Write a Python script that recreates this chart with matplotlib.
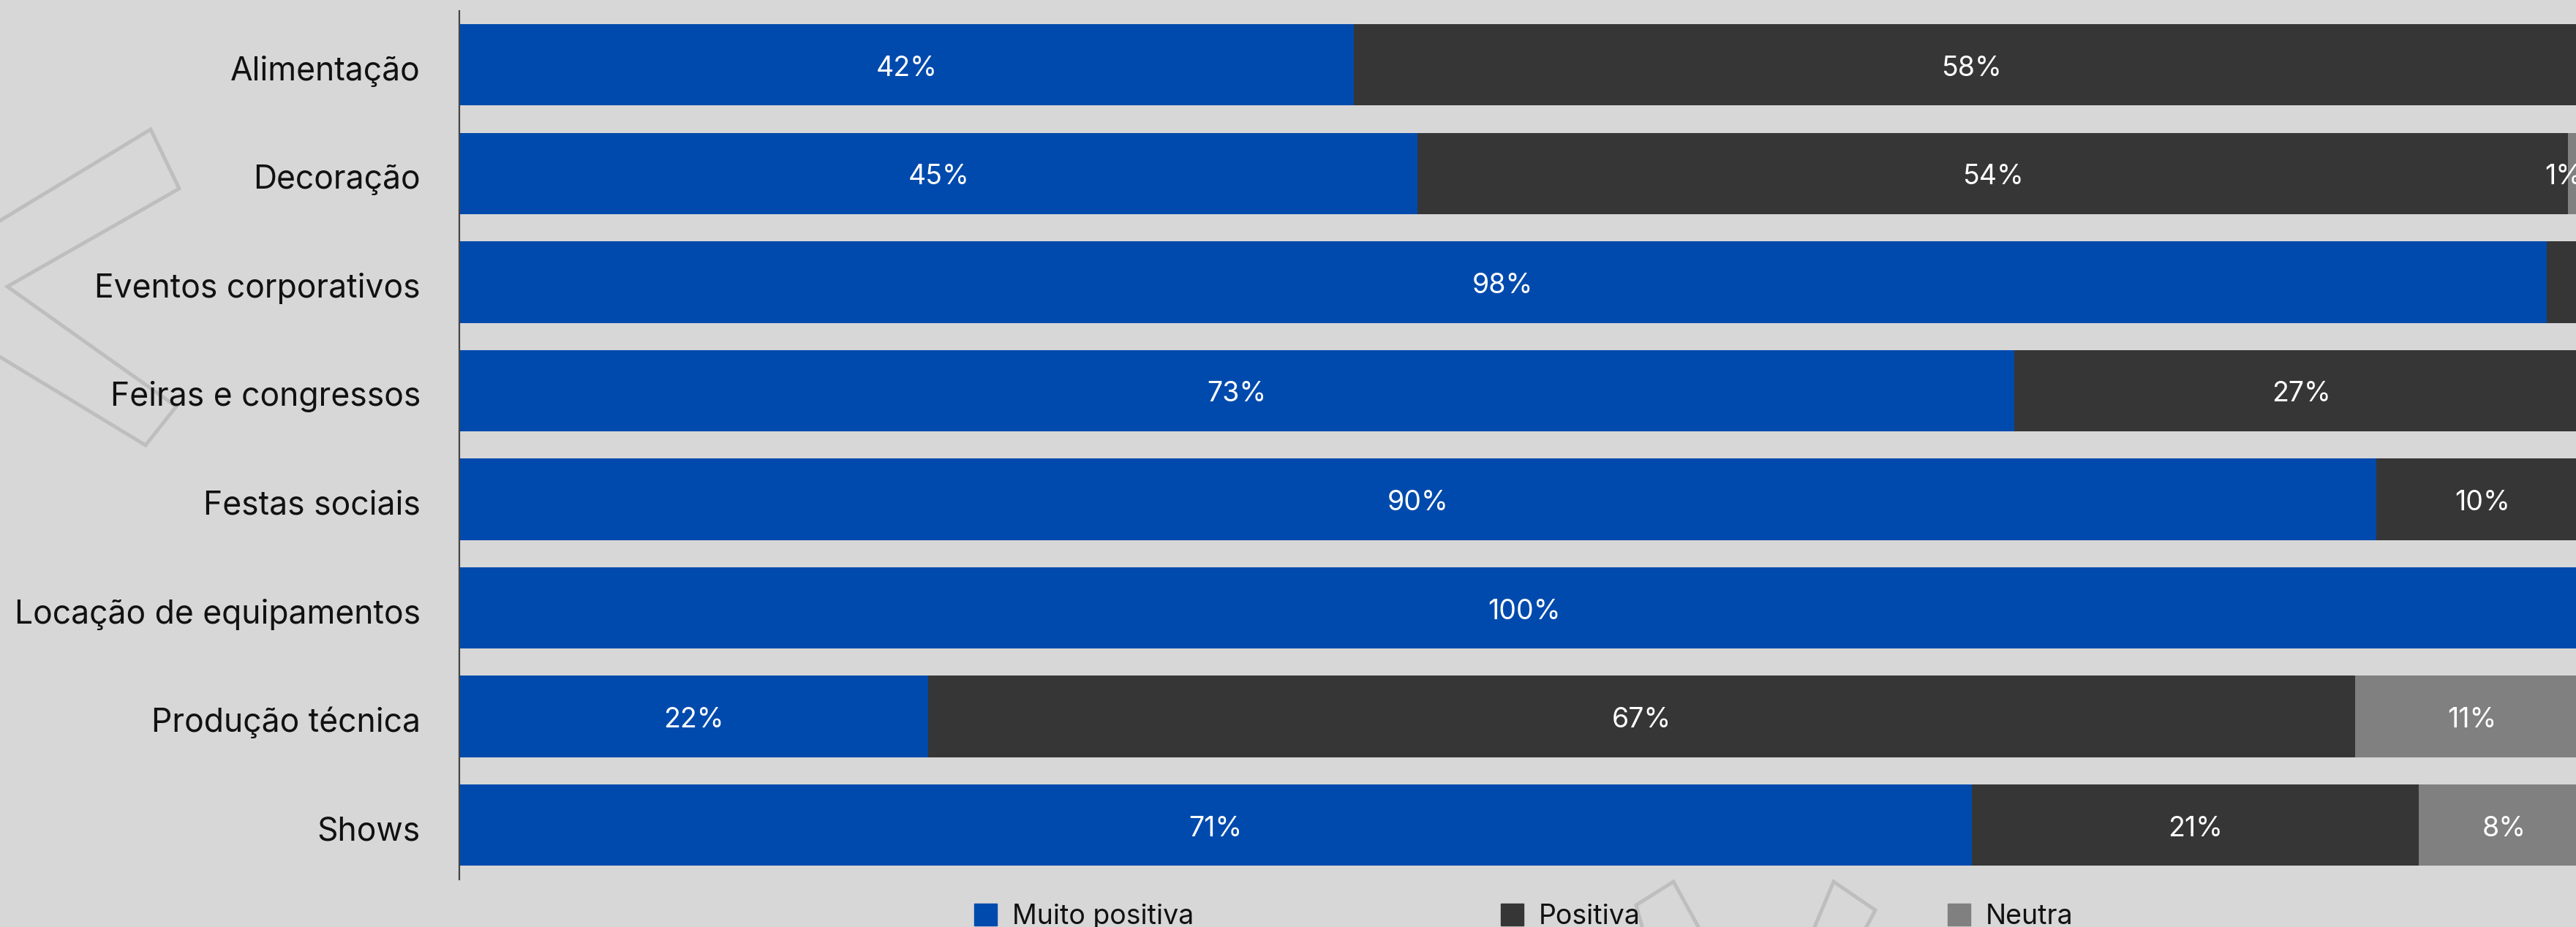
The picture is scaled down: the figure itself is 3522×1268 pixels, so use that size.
import matplotlib
matplotlib.use("Agg")
import matplotlib.pyplot as plt
from matplotlib.patches import Patch
from matplotlib.lines import Line2D
from matplotlib.transforms import ScaledTranslation
import numpy as np

# data
categories = ["Alimentação", "Decoração", "Eventos corporativos", "Feiras e congressos",
              "Festas sociais", "Locação de equipamentos", "Produção técnica", "Shows"]
series = ["Muito positiva", "Positiva", "Neutra"]
muito_positiva = [42, 45, 98, 73, 90, 100, 22, 71]
positiva = [58, 54, 2, 27, 10, 0, 67, 21]
neutra = [0, 1, 0, 0, 0, 0, 11, 8]
hidden_labels = [("Eventos corporativos", "Positiva")]

colors = ["#004aad", "#363636", "#808080"]
bg = "#d7d7d7"
W, H = 3522, 1268

plt.rcParams['font.family'] = ['Inter', 'DejaVu Sans']

fig = plt.figure(figsize=(W / 100, H / 100), dpi=100, facecolor=bg)


def px(pts):
    xs = [p[0] / W for p in pts]
    ys = [1 - p[1] / H for p in pts]
    return xs, ys


# decorative outlines in the background
deco = [
    [(-2, 303), (206, 177), (245, 258), (10, 392), (241, 556), (199, 609), (-2, 487)],
    [(2247, 1275), (2237, 1238), (2288, 1206), (2326, 1275)],
    [(2478, 1275), (2507, 1206), (2564, 1245), (2548, 1275)],
]
for shape in deco:
    xs, ys = px(shape)
    fig.add_artist(Line2D(xs, ys, transform=fig.transFigure, color="#bebebe",
                          lw=3.6, solid_joinstyle="miter", zorder=0))

ax = fig.add_axes([628 / W, 1 - 1203 / H, (3540 - 628) / W, (1203 - 14.5) / H])
ax.set_facecolor("none")

# nudge text down a little so it sits optically centred on the bars
down = ScaledTranslation(0, -5 / 100, fig.dpi_scale_trans)

y = np.arange(len(categories))
left = np.zeros(len(categories))
for name, vals, col in zip(series, [muito_positiva, positiva, neutra], colors):
    vals = np.array(vals, dtype=float)
    ax.barh(y, vals, left=left, height=0.75, color=col, label=name)
    for i in range(len(categories)):
        if vals[i] > 0 and (categories[i], name) not in hidden_labels:
            # keep labels of thin end segments inside the visible area
            xc = min(left[i] + vals[i] / 2, 98.8)
            ax.text(xc, i, f"{vals[i]:.0f}%", ha="center", va="center",
                    color="white", fontsize=27, transform=ax.transData + down)
    left += vals

ax.set_xlim(0, 100)
ax.set_ylim(len(categories) - 0.5, -0.5)

# category labels (drawn as text so they can be nudged like the value labels)
ax.set_yticks([])
ax.set_xticks([])
lab_shift = ScaledTranslation(-53 / 100, -4 / 100, fig.dpi_scale_trans)
for i, cat in enumerate(categories):
    ax.text(0, i, cat, ha="right", va="center_baseline", fontsize=32, color="#111111",
            transform=ax.get_yaxis_transform() + lab_shift)

for s in ["top", "right", "bottom"]:
    ax.spines[s].set_visible(False)
ax.spines["left"].set_color("#444444")
ax.spines["left"].set_linewidth(1.6)

handles = [Patch(color=c) for c in colors]
fig.legend(handles, series, loc="center", bbox_to_anchor=(0.5915, 0.011), ncol=3,
           frameon=False, fontsize=27, handlelength=0.83, handleheight=0.83,
           handletextpad=0.56, columnspacing=11.2, borderpad=0, borderaxespad=0,
           labelcolor="#111111")

fig.savefig("out.png", dpi=100, facecolor=bg)
